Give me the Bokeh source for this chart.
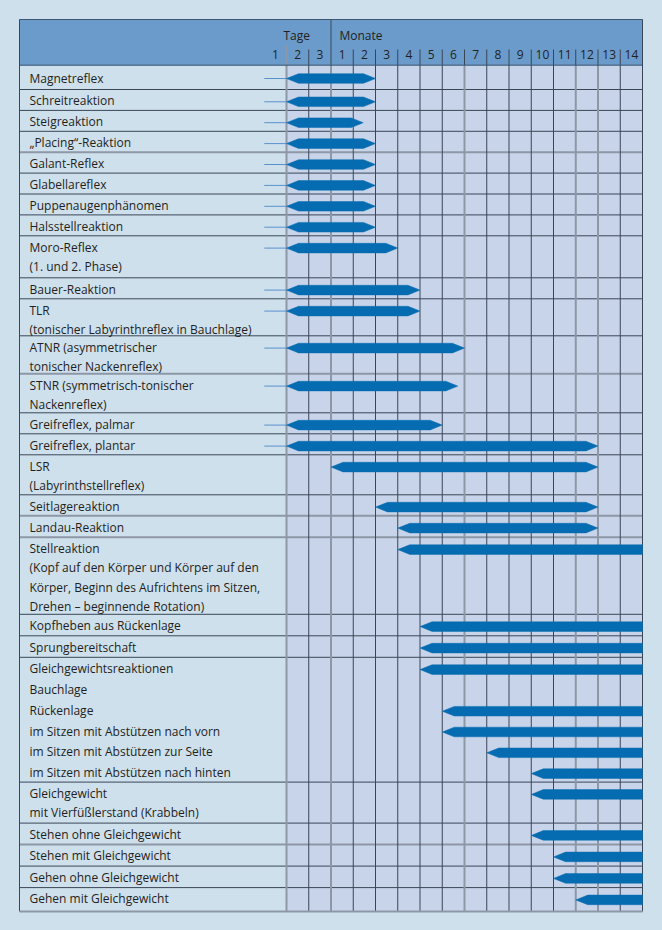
from bokeh.plotting import figure
from bokeh.models import Range1d
from bokeh.core.properties import value
from bokeh.embed import file_html
from bokeh.resources import INLINE

# ---------------- data ----------------
# timeline columns: Tage 1-3, then Monate 1-14; column i spans [i, i+1]
day_ticks = ["1", "2", "3"]
month_ticks = [str(m) for m in range(1, 15)]

labels = [
    "Magnetreflex",
    "Schreitreaktion",
    "Steigreaktion",
    "\u201ePlacing\u201c-Reaktion",
    "Galant-Reflex",
    "Glabellareflex",
    "Puppenaugenphänomen",
    "Halsstellreaktion",
    "Moro-Reflex\n(1. und 2. Phase)",
    "Bauer-Reaktion",
    "TLR\n(tonischer Labyrinthreflex in Bauchlage)",
    "ATNR (asymmetrischer\ntonischer Nackenreflex)",
    "STNR (symmetrisch-tonischer\nNackenreflex)",
    "Greifreflex, palmar",
    "Greifreflex, plantar",
    "LSR\n(Labyrinthstellreflex)",
    "Seitlagereaktion",
    "Landau-Reaktion",
    "Stellreaktion\n(Kopf auf den Körper und Körper auf den\nKörper, Beginn des Aufrichtens im Sitzen,\nDrehen \u2013 beginnende Rotation)",
    "Kopfheben aus Rückenlage",
    "Sprungbereitschaft",
    "Gleichgewichtsreaktionen",
    "Bauchlage",
    "Rückenlage",
    "im Sitzen mit Abstützen nach vorn",
    "im Sitzen mit Abstützen zur Seite",
    "im Sitzen mit Abstützen nach hinten",
    "Gleichgewicht\nmit Vierfüßlerstand (Krabbeln)",
    "Stehen ohne Gleichgewicht",
    "Stehen mit Gleichgewicht",
    "Gehen ohne Gleichgewicht",
    "Gehen mit Gleichgewicht",
]
# start / end on the timeline (1 = Tag 2, 3 = Monat 1, month m ends at m+3)
# None as start = no bar; None as end = continues beyond 14 months
bar_start = [1, 1, 1, 1, 1, 1, 1, 1, 1, 1, 1, 1, 1, 1, 1, 3, 5, 6, 6, 7, 7,
             7, None, 8, 8, 10, 12, 12, 12, 13, 13, 14]
bar_end = [5, 5, 4.45, 5, 5, 5, 5, 5, 6, 7, 7, 9, 8.7, 8, 15, 15, 15, 15, None, None, None,
           None, None, None, None, None, None, None, None, None, None, None]
# items that share one block with the following item (no separator line)
joined_with_next = [False] * 21 + [True] * 5 + [False] * 6

# ---------------- layout ----------------
PAGE_BG = "#cfe0ed"
HEAD_BG = "#6b9bcb"
GRID_BG = "#c8d4ea"
BAR = "#066cb1"
STUB = "#5a91cd"
DARK = "#3a4656"
GRAY = "#8d97a6"
TXT = "#231f20"
FONT = value("Open Sans")

W, H = 662, 930
COL = 22.25          # px per column
XG = 286.0           # screen x of timeline position 1
T_END = 17           # right edge of month 14


def tx(px):
    return 1 + (px - XG) / COL


LEFT, TOP, HEAD_B, BOTTOM = 19.0, 19.0, 64.7, 911.0
item_px = [24.3] + [20.9] * 7 + [42, 21, 37, 38, 39, 21, 21, 40, 21, 21.5, 77, 21.5, 21.5] \
    + [20.8] * 6 + [41, 21.5, 21.5, 21.5, 24]

p = figure(width=W, height=H, x_range=Range1d(tx(0), tx(W)), y_range=Range1d(H, 0),
           output_backend="svg", toolbar_location=None, min_border=0,
           x_axis_location=None, y_axis_location=None,
           background_fill_color=PAGE_BG, border_fill_color=PAGE_BG, outline_line_color=None)
p.grid.visible = False

# backgrounds
p.quad(left=[tx(LEFT)], right=[T_END], top=[TOP], bottom=[HEAD_B], fill_color=HEAD_BG, line_color=None)
p.quad(left=[1], right=[T_END], top=[HEAD_B], bottom=[BOTTOM], fill_color=GRID_BG, line_color=None)

# row positions
tops = []
y = HEAD_B
for h in item_px:
    tops.append(y)
    y += h

# horizontal separators
sep_dark, sep_gray = [], []
for i, top in enumerate(tops):
    if i < len(tops) - 1 and not joined_with_next[i]:
        yy = top + item_px[i]
        (sep_gray if round(yy) in (152, 373, 515, 537, 844) else sep_dark).append(yy)
p.segment(x0=tx(LEFT), x1=T_END, y0=sep_dark, y1=sep_dark, line_color=DARK, line_width=1)
p.segment(x0=tx(LEFT), x1=T_END, y0=sep_gray, y1=sep_gray, line_color=GRAY, line_width=2)

# vertical grid lines
gray_cols = [1, 3, 9, 14, 15]
vd = [t for t in range(2, T_END) if t not in gray_cols]
p.segment(x0=vd, x1=vd, y0=HEAD_B, y1=BOTTOM, line_color=DARK, line_width=1)
p.segment(x0=gray_cols, x1=gray_cols, y0=HEAD_B, y1=BOTTOM, line_color=GRAY, line_width=2)

# header separators
hs = [t for t in range(2, T_END) if t != 3]
p.segment(x0=hs, x1=hs, y0=49, y1=HEAD_B, line_color=DARK, line_width=1)
p.segment(x0=[1], x1=[1], y0=45, y1=HEAD_B, line_color=GRAY, line_width=2)
p.segment(x0=[3], x1=[3], y0=TOP, y1=HEAD_B, line_color=DARK, line_width=1)

# borders
p.segment(x0=[tx(LEFT), tx(LEFT), tx(LEFT), T_END], x1=[T_END, T_END, tx(LEFT), T_END],
          y0=[TOP, HEAD_B, TOP, TOP], y1=[TOP, HEAD_B, BOTTOM, BOTTOM],
          line_color=["#3d5672", "#34506e", DARK, DARK], line_width=1)
p.segment(x0=[tx(LEFT)], x1=[T_END], y0=[BOTTOM], y1=[BOTTOM], line_color=GRAY, line_width=2)

# bars
TIP = 12 / COL
HH = 4.8
xs, ys, sx0, sx1, sy = [], [], [], [], []
for i, (s, e) in enumerate(zip(bar_start, bar_end)):
    if s is None:
        continue
    yc = tops[i] + (13.3 if i == 0 else 12.3)
    if e is None:
        xs.append([s, s + TIP, T_END, T_END, s + TIP])
        ys.append([yc, yc - HH, yc - HH, yc + HH, yc + HH])
    else:
        xs.append([s, s + TIP, e - TIP, e, e - TIP, s + TIP])
        ys.append([yc, yc - HH, yc - HH, yc, yc + HH, yc + HH])
    if s == 1:
        sx0.append(0)
        sx1.append(1)
        sy.append(yc)
p.segment(x0=sx0, x1=sx1, y0=sy, y1=sy, line_color=STUB, line_width=1)
p.patches(xs=xs, ys=ys, fill_color=BAR, line_color=BAR, line_width=0.5)

# labels
lx, ly, lt = [], [], []
for i, lab in enumerate(labels):
    base = tops[i] + (13.0 if i == 0 else 11.3)
    for k, line in enumerate(lab.split("\n")):
        lx.append(tx(29))
        ly.append(base + k * 19.3)
        lt.append(line)
p.text(x=lx, y=ly, text=lt, text_font=FONT, text_font_size="12px", text_color=TXT,
       text_baseline="middle", text_align="left")

# header texts
tick_x = [i + 0.5 for i in range(len(day_ticks) + len(month_ticks))]
p.text(x=tick_x, y=[54] * len(tick_x), text=day_ticks + month_ticks, text_font=FONT,
       text_font_size="12px", text_color=TXT, text_baseline="middle", text_align="center")
p.text(x=[tx(309.5)], y=[34.5], text=["Tage"], text_font=FONT, text_font_size="12px",
       text_color=TXT, text_baseline="middle", text_align="right")
p.text(x=[tx(339)], y=[34.5], text=["Monate"], text_font=FONT, text_font_size="12px",
       text_color=TXT, text_baseline="middle", text_align="left")

html = file_html(p, INLINE)
html = html.replace("<head>", "<head><style>html,body{background:%s;}</style>" % PAGE_BG, 1)
open("out.html", "w").write(html)
